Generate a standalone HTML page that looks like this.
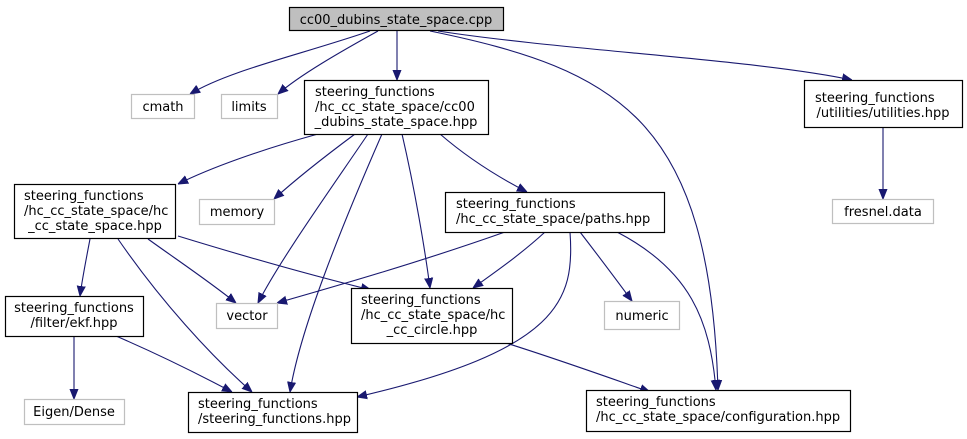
<!DOCTYPE html>
<html><head><meta charset="utf-8"><style>
html,body{margin:0;padding:0;background:#fff;}
svg{display:block;}
text{font-family:"DejaVu Sans","Liberation Sans",sans-serif;font-size:13px;fill:#000;}
.e{stroke:#191970;fill:none;stroke-width:1.1;}
.b{fill:#fff;stroke:#000;stroke-width:1.2;}
.g{fill:#fff;stroke:#bfbfbf;stroke-width:1.2;}
</style></head><body>
<svg width="967" height="439" viewBox="0 0 967 439" xmlns="http://www.w3.org/2000/svg">
<defs><marker id="a" viewBox="0 0 10 10" refX="10" refY="5" markerWidth="10" markerHeight="10" markerUnits="userSpaceOnUse" orient="auto"><path d="M0,1 L10,5 L0,9 z" fill="#191970" stroke="#191970"/></marker></defs>
<g marker-end="url(#a)">
<path class="e" d="M370,31 C300,55 230,70 190,94"/>
<path class="e" d="M378,31 C340,52 300,75 278,94"/>
<path class="e" d="M397,31 L397,80"/>
<path class="e" d="M438,31 C560,50 760,60 852,80"/>
<path class="e" d="M430,31 C620,70 710,120 718,390"/>
<path class="e" d="M318,134 C260,150 210,168 178,184"/>
<path class="e" d="M355,134 C320,160 295,180 274,199"/>
<path class="e" d="M368,134 C330,190 280,260 258,303"/>
<path class="e" d="M382,134 C340,230 300,330 290,392"/>
<path class="e" d="M402,134 C415,190 425,250 430,288"/>
<path class="e" d="M440,134 C470,160 500,178 527,192"/>
<path class="e" d="M883,127 L883,199"/>
<path class="e" d="M90,239 C86,260 82,280 80,296"/>
<path class="e" d="M148,239 C180,262 210,282 236,303"/>
<path class="e" d="M178,236 C240,255 310,275 371,290"/>
<path class="e" d="M118,239 C160,300 210,355 252,392"/>
<path class="e" d="M505,232 C420,262 340,285 277,303"/>
<path class="e" d="M545,232 C520,255 495,272 473,288"/>
<path class="e" d="M580,232 C600,258 618,282 632,301"/>
<path class="e" d="M570,232 C575,300 560,350 357,397"/>
<path class="e" d="M617,232 C690,270 710,320 716,390"/>
<path class="e" d="M74,336 L74,399"/>
<path class="e" d="M116,336 C160,355 200,375 232,392"/>
<path class="e" d="M506,343 C560,360 610,378 650,392"/>
</g>
<rect x="289.5" y="7.5" width="214" height="23" fill="#bfbfbf" stroke="#000" stroke-width="1.2"/>
<text x="396" y="24" text-anchor="middle">cc00_dubins_state_space.cpp</text>
<rect class="g" x="131.5" y="94.5" width="63" height="24"/><text x="163" y="111" text-anchor="middle">cmath</text>
<rect class="g" x="221.5" y="94.5" width="56" height="24"/><text x="249" y="111" text-anchor="middle">limits</text>
<rect class="b" x="304.5" y="80.5" width="184" height="54"/>
<text x="315" y="96">steering_functions</text><text x="315" y="111">/hc_cc_state_space/cc00</text><text x="396" y="126" text-anchor="middle">_dubins_state_space.hpp</text>
<rect class="b" x="804.5" y="80.5" width="158" height="47"/>
<text x="815" y="102">steering_functions</text><text x="883" y="117" text-anchor="middle">/utilities/utilities.hpp</text>
<rect class="g" x="832.5" y="199.5" width="101" height="24"/><text x="883" y="216" text-anchor="middle">fresnel.data</text>
<rect class="b" x="14.5" y="184.5" width="161" height="54"/>
<text x="24" y="200">steering_functions</text><text x="24" y="215">/hc_cc_state_space/hc</text><text x="95" y="230" text-anchor="middle">_cc_state_space.hpp</text>
<rect class="g" x="199.5" y="199.5" width="75" height="25"/><text x="237" y="216" text-anchor="middle">memory</text>
<rect class="b" x="445.5" y="192.5" width="219" height="40"/>
<text x="456" y="208">steering_functions</text><text x="456" y="223">/hc_cc_state_space/paths.hpp</text>
<rect class="b" x="5.5" y="296.5" width="138" height="40"/>
<text x="74" y="312" text-anchor="middle">steering_functions</text><text x="74" y="327" text-anchor="middle">/filter/ekf.hpp</text>
<rect class="g" x="216.5" y="303.5" width="61" height="25"/><text x="247" y="320" text-anchor="middle">vector</text>
<rect class="b" x="351.5" y="288.5" width="161" height="55"/>
<text x="361" y="304">steering_functions</text><text x="361" y="319">/hc_cc_state_space/hc</text><text x="432" y="334" text-anchor="middle">_cc_circle.hpp</text>
<rect class="g" x="604.5" y="301.5" width="75" height="28"/><text x="642" y="320" text-anchor="middle">numeric</text>
<rect class="g" x="24.5" y="399.5" width="100" height="25"/><text x="74" y="416" text-anchor="middle">Eigen/Dense</text>
<rect class="b" x="188.5" y="392.5" width="169" height="40"/>
<text x="198" y="408">steering_functions</text><text x="198" y="423">/steering_functions.hpp</text>
<rect class="b" x="586.5" y="390.5" width="264" height="41"/>
<text x="596" y="406">steering_functions</text><text x="596" y="421">/hc_cc_state_space/configuration.hpp</text>
</svg>
</body></html>
